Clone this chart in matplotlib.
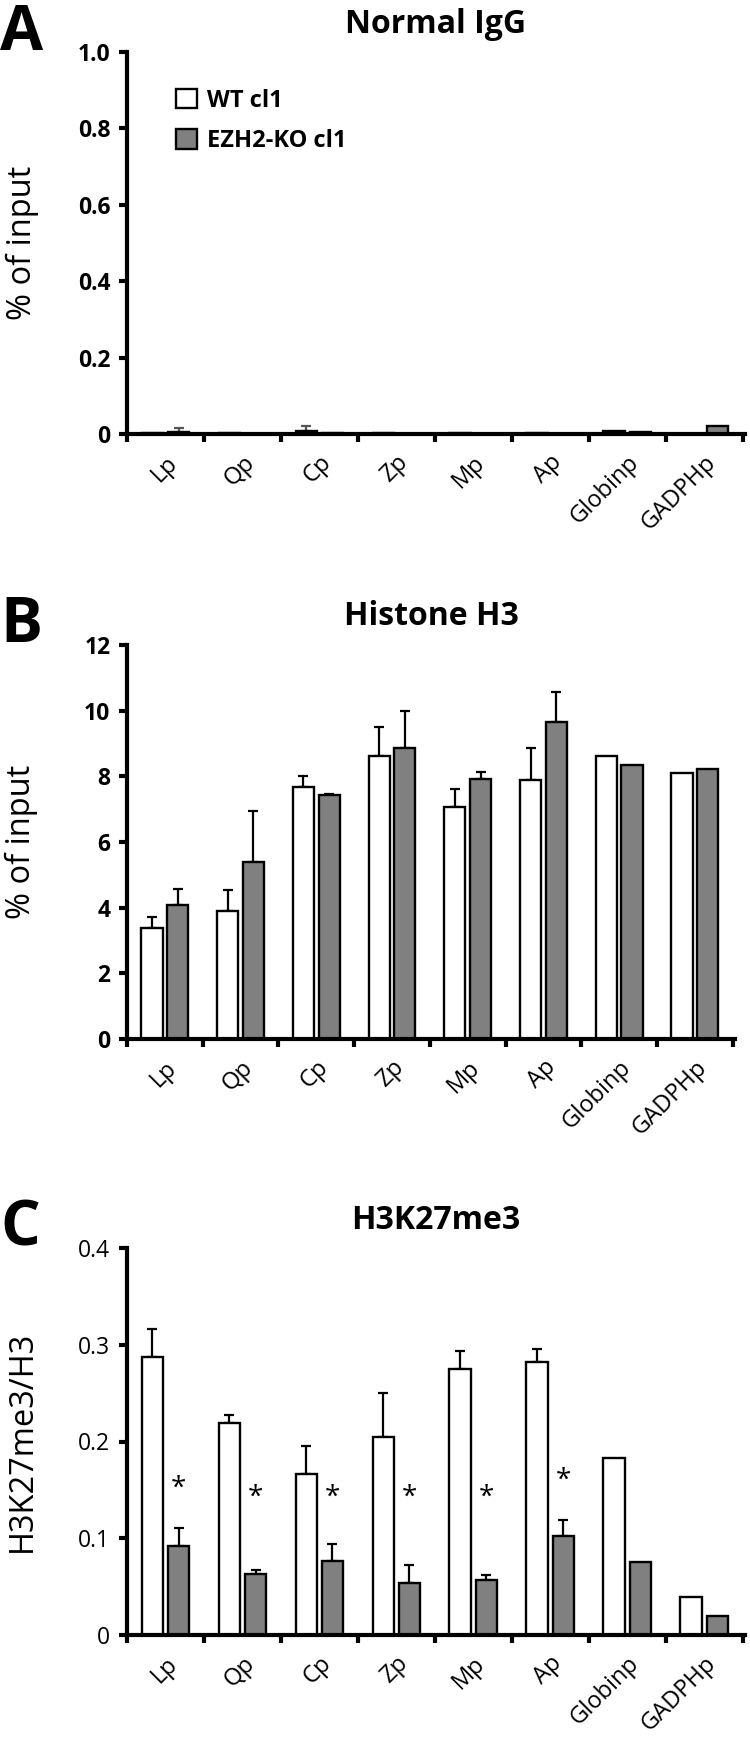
import numpy as np
import matplotlib
matplotlib.use("Agg")
import matplotlib.pyplot as plt
from matplotlib.patches import Patch
from matplotlib.ticker import FixedLocator, FuncFormatter

plt.rcParams['font.family'] = ['Open Sans', 'DejaVu Sans']

categories = ["Lp", "Qp", "Cp", "Zp", "Mp", "Ap", "Globinp", "GADPHp"]
series_names = ["WT cl1", "EZH2-KO cl1"]

# Panel A: Normal IgG (% of input)
igg_wt = [0.003, 0.002, 0.009, 0.003, 0.002, 0.002, 0.008, 0.0]
igg_wt_err = [0.0, 0.0, 0.012, 0.0, 0.0, 0.0, 0.0, 0.0]
igg_ko = [0.006, 0.001, 0.002, 0.001, 0.001, 0.001, 0.004, 0.021]
igg_ko_err = [0.009, 0.0, 0.0, 0.0, 0.0, 0.0, 0.0, 0.0]

# Panel B: Histone H3 (% of input)
h3_wt = [3.37, 3.91, 7.68, 8.63, 7.06, 7.89, 8.63, 8.11]
h3_wt_err = [0.35, 0.62, 0.32, 0.87, 0.54, 0.98, 0.0, 0.0]
h3_ko = [4.09, 5.40, 7.43, 8.87, 7.93, 9.65, 8.33, 8.22]
h3_ko_err = [0.49, 1.55, 0.04, 1.12, 0.20, 0.91, 0.0, 0.0]

# Panel C: H3K27me3/H3
k27_wt = [0.287, 0.219, 0.166, 0.205, 0.275, 0.282, 0.183, 0.039]
k27_wt_err = [0.029, 0.008, 0.029, 0.045, 0.019, 0.014, 0.0, 0.0]
k27_ko = [0.092, 0.063, 0.076, 0.054, 0.057, 0.102, 0.075, 0.020]
k27_ko_err = [0.019, 0.004, 0.018, 0.018, 0.005, 0.017, 0.0, 0.0]
k27_significant = [True, True, True, True, True, True, False, False]

W, H = 750, 1741
fig = plt.figure(figsize=(W / 100, H / 100), dpi=100)

def axes_px(left, top, right, bottom):
    return fig.add_axes([left / W, 1 - bottom / H, (right - left) / W, (bottom - top) / H])

GRAY = "#808080"
TICK_FS = 16.5
XTICK_FS = 17
TITLE_FS = 23
YLABEL_FS = 23.5

def style_axes(ax, ymax, ystep, bold_ticks, fmt):
    ax.set_xlim(0, 8.03)
    ax.set_ylim(0, ymax)
    for s in ["top", "right"]:
        ax.spines[s].set_visible(False)
    for s in ["left", "bottom"]:
        ax.spines[s].set_linewidth(3)
    ax.xaxis.set_major_locator(FixedLocator(np.arange(0, 9)))
    ax.xaxis.set_major_formatter(FuncFormatter(lambda v, p: ""))
    ax.set_xticks(np.arange(len(categories)) + 0.5, minor=True)
    ax.set_xticklabels(categories, minor=True, rotation=45, ha="right",
                       rotation_mode="anchor", fontsize=XTICK_FS)
    ax.tick_params(axis="x", which="major", direction="out", length=6, width=3)
    ax.tick_params(axis="x", which="minor", length=0, pad=12)
    ax.set_yticks(np.arange(0, ymax + ystep / 2, ystep))
    ax.yaxis.set_major_formatter(FuncFormatter(fmt))
    ax.tick_params(axis="y", direction="out", length=6, width=3, labelsize=TICK_FS, pad=6)
    if bold_ticks:
        for t in ax.get_yticklabels():
            t.set_fontweight("bold")

def draw_bars(ax, wt, wt_err, ko, ko_err, err_color="black"):
    x = np.arange(len(categories))
    wdt = 0.28
    ax.bar(x + 0.33, wt, wdt, color="white", edgecolor="black", linewidth=1.7, zorder=2)
    ax.bar(x + 0.67, ko, wdt, color=GRAY, edgecolor="black", linewidth=1.7, zorder=2)
    for xs, v, e in [(x + 0.33, wt, wt_err), (x + 0.67, ko, ko_err)]:
        e = np.asarray(e)
        m = e > 0
        ax.errorbar(xs[m], np.asarray(v)[m], yerr=[np.zeros(m.sum()), e[m]], fmt="none",
                    ecolor=err_color, elinewidth=1.6, capsize=3.5, capthick=1.6, zorder=1)

fmt1 = lambda v, p: "0" if abs(v) < 1e-9 else f"{v:.1f}"
fmt0 = lambda v, p: f"{int(round(v))}"

def add_title(ax, text):
    ax.text(0.5, 1.05, text, transform=ax.transAxes, ha="center", va="baseline",
            fontsize=TITLE_FS, fontweight="bold")

# Panel A
axA = axes_px(127, 52, 745, 434)
draw_bars(axA, igg_wt, igg_wt_err, igg_ko, igg_ko_err, err_color="#555555")
style_axes(axA, 1.0, 0.2, True, fmt1)
axA.set_ylabel("% of input", fontsize=YLABEL_FS)
axA.yaxis.set_label_coords(-0.143, 0.5)
add_title(axA, "Normal IgG")
handles = [Patch(facecolor="white", edgecolor="black", linewidth=1.7),
           Patch(facecolor=GRAY, edgecolor="black", linewidth=1.7)]
leg = axA.legend(handles, series_names, loc="upper left", bbox_to_anchor=(0.045, 0.96),
                 frameon=False, handlelength=0.9, handleheight=0.9, handletextpad=0.4,
                 labelspacing=0.7, prop={"size": 17, "weight": "bold"})

# Panel B
axB = axes_px(127, 645, 735, 1039)
draw_bars(axB, h3_wt, h3_wt_err, h3_ko, h3_ko_err)
style_axes(axB, 12, 2, True, fmt0)
axB.set_ylabel("% of input", fontsize=YLABEL_FS)
axB.yaxis.set_label_coords(-0.146, 0.5)
add_title(axB, "Histone H3")

# Panel C
axC = axes_px(127, 1248, 745, 1635)
draw_bars(axC, k27_wt, k27_wt_err, k27_ko, k27_ko_err)
style_axes(axC, 0.4, 0.1, False, fmt1)
axC.set_ylabel("H3K27me3/H3", fontsize=YLABEL_FS)
axC.yaxis.set_label_coords(-0.143, 0.5)
add_title(axC, "H3K27me3")
for i, sig in enumerate(k27_significant):
    if sig:
        top = k27_ko[i] + k27_ko_err[i]
        axC.text(i + 0.67, max(0.142, top + 0.04), "*", ha="center", va="center", fontsize=20)

# Panel letters
for lbl, ypx in [("A", 50), ("B", 642), ("C", 1245)]:
    fig.text(0 / W, 1 - ypx / H, lbl, ha="left", va="baseline", fontsize=45, fontweight="bold")

fig.savefig("out.png", dpi=100)
